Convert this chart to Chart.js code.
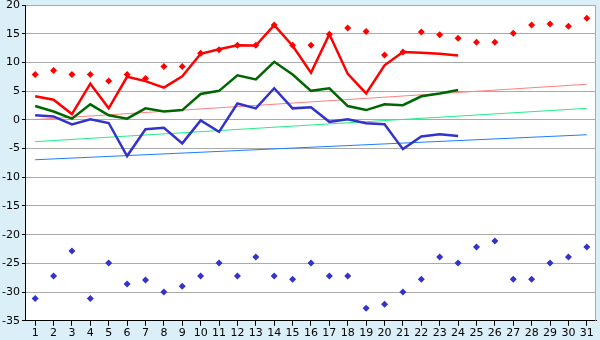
<!DOCTYPE html>
<html>
<head>
<meta charset="utf-8">
<script src="https://cdn.jsdelivr.net/npm/chart.js@4/dist/chart.umd.min.js"></script>
<style>
  html, body { margin: 0; padding: 0; background: #daeff7; }
  #wrap { width: 600px; height: 340px; }
</style>
</head>
<body>
<div id="wrap"><canvas id="chart" width="600" height="340"></canvas></div>
<script>
// x categories: days 1..31
var days = [];
for (var d = 1; d <= 31; d++) days.push(String(d));

var redLine = [4.1, 3.5, 1.0, 6.3, 2.0, 7.5, 6.75, 5.6, 7.6, 11.5, 12.3, 13.0, 12.95, 16.5, 12.9, 8.2, 14.9, 8.0, 4.6, 9.5, 11.8, 11.7, 11.5, 11.2];
var greenLine = [2.4, 1.45, 0.2, 2.7, 0.8, 0.2, 2.0, 1.45, 1.7, 4.5, 5.05, 7.75, 7.05, 10.1, 7.9, 5.05, 5.5, 2.4, 1.7, 2.7, 2.55, 4.1, 4.6, 5.2];
var blueLine = [0.8, 0.6, -0.8, 0.1, -0.55, -6.3, -1.65, -1.4, -4.1, -0.1, -2.1, 2.85, 2.0, 5.5, 2.0, 2.2, -0.35, 0.1, -0.6, -0.75, -5.1, -2.9, -2.5, -2.8];

var redPoints = [7.9, 8.6, 7.9, 7.9, 6.75, 7.9, 7.2, 9.3, 9.3, 11.6, 12.2, 13.0, 13.0, 16.5, 13.0, 13.0, 14.9, 16.0, 15.4, 11.3, 11.8, 15.3, 14.8, 14.2, 13.5, 13.5, 15.1, 16.5, 16.7, 16.3, 17.7];
var bluePoints = [-31.1, -27.2, -22.85, -31.1, -24.95, -28.6, -27.9, -30.0, -29.0, -27.2, -24.95, -27.2, -23.9, -27.2, -27.75, -24.95, -27.2, -27.2, -32.8, -32.1, -30.0, -27.75, -23.9, -24.95, -22.15, -21.1, -27.75, -27.75, -24.95, -23.9, -22.15];

// trend lines: values at first and last day
var pinkTrend = [0.05, 6.2];
var greenTrend = [-3.8, 2.0];
var blueTrend = [-6.95, -2.6];

var yTicks = { min: -35, max: 20, step: 5 };

function trendData(ends) {
    var arr = [];
    for (var i = 0; i < days.length; i++) arr.push(null);
    arr[0] = ends[0];
    arr[days.length - 1] = ends[1];
    return arr;
}

var plotFrame = {
    id: 'plotFrame',
    beforeDatasetsDraw: function (chart) {
        var a = chart.chartArea, ctx = chart.ctx;
        ctx.save();
        ctx.strokeStyle = '#aaaaaa';
        ctx.lineWidth = 1;
        ctx.beginPath();
        ctx.moveTo(a.left, a.top + 0.5);
        ctx.lineTo(a.right - 0.5, a.top + 0.5);
        ctx.lineTo(a.right - 0.5, a.bottom);
        ctx.stroke();
        ctx.restore();
    },
    beforeDraw: function (chart) {
        var a = chart.chartArea, ctx = chart.ctx;
        ctx.save();
        ctx.fillStyle = '#ffffff';
        ctx.fillRect(a.left, a.top, a.right - a.left, a.bottom - a.top);
        ctx.restore();
    }
};

function lineSet(data, color, width) {
    return { type: 'line', data: data, borderColor: color, backgroundColor: color, borderWidth: width,
             pointRadius: 0, tension: 0, fill: false };
}
function pointSet(data, color) {
    return { type: 'line', data: data, showLine: false, borderColor: color, backgroundColor: color,
             pointStyle: 'rectRot', pointRadius: 3.5, pointBorderWidth: 0 };
}
function trendSet(ends, color) {
    var s = lineSet(trendData(ends), color, 1);
    s.spanGaps = true;
    return s;
}

Chart.defaults.font.family = 'DejaVu Sans';
Chart.defaults.font.size = 11;
Chart.defaults.color = '#000';

new Chart(document.getElementById('chart').getContext('2d'), {
    type: 'line',
    data: {
        labels: days,
        datasets: [
            lineSet(redLine, '#ff0000', 2.5),
            lineSet(greenLine, '#006600', 2.5),
            lineSet(blueLine, '#3333cc', 2.5),
            pointSet(redPoints, '#ff0000'),
            pointSet(bluePoints, '#3333cc'),
            trendSet(pinkTrend, '#ff8080'),
            trendSet(greenTrend, '#22ee88'),
            trendSet(blueTrend, '#1a80ff')
        ]
    },
    options: {
        responsive: false,
        animation: false,
        layout: { padding: { left: 0, right: 4, top: 5, bottom: -1 } },
        plugins: { legend: { display: false }, tooltip: { enabled: false } },
        scales: {
            x: {
                offset: true,
                grid: { offset: false, drawOnChartArea: false, drawTicks: true, tickLength: 5, tickColor: '#000' },
                border: { display: true, color: '#000' },
                ticks: { autoSkip: false, maxRotation: 0, padding: 1 }
            },
            y: {
                min: yTicks.min,
                max: yTicks.max,
                ticks: { stepSize: yTicks.step, padding: 2 },
                grid: { color: '#aaaaaa', tickLength: 4, tickColor: '#000' },
                border: { display: true, color: '#000' },
                afterFit: function (scale) { scale.paddingTop = 0; }
            }
        }
    },
    plugins: [plotFrame]
});
</script>
</body>
</html>
